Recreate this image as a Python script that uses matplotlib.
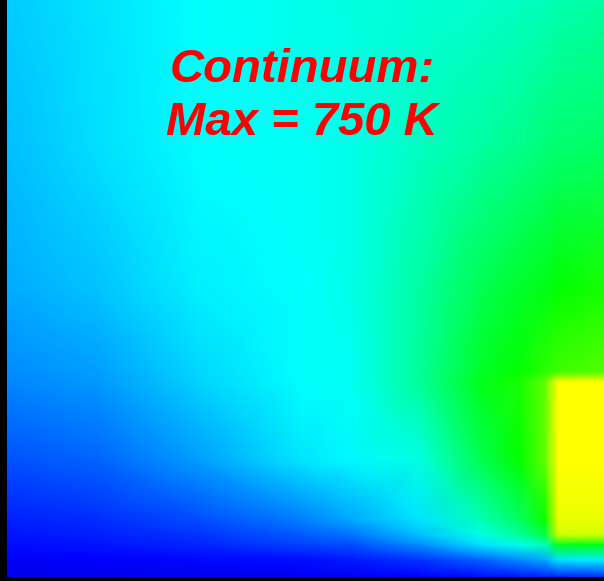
import numpy as np
import matplotlib.pyplot as plt
from matplotlib.colors import LinearSegmentedColormap

# grid nodes of the temperature field (image pixel coords, y downward)
x_nodes = [7, 100, 200, 300, 350, 420, 480, 520, 545, 558, 604]
y_nodes = [0, 145, 290, 372, 382, 460, 520, 535, 545, 560, 577]

# normalised temperature at each node (row = y node, col = x node)
temp = [
    [0.42, 0.46, 0.50, 0.52, 0.53, 0.54, 0.55, 0.56, 0.57, 0.58, 0.59],
    [0.40, 0.45, 0.50, 0.51, 0.52, 0.56, 0.59, 0.61, 0.63, 0.64, 0.65],
    [0.37, 0.41, 0.48, 0.50, 0.52, 0.59, 0.67, 0.71, 0.73, 0.75, 0.77],
    [0.32, 0.35, 0.44, 0.50, 0.51, 0.60, 0.71, 0.75, 0.79, 0.81, 0.83],
    [0.31, 0.34, 0.43, 0.50, 0.51, 0.60, 0.72, 0.77, 0.84, 1.00, 1.00],
    [0.23, 0.26, 0.35, 0.46, 0.49, 0.53, 0.67, 0.75, 0.84, 1.00, 1.00],
    [0.15, 0.17, 0.22, 0.30, 0.36, 0.46, 0.57, 0.66, 0.76, 0.98, 0.98],
    [0.13, 0.15, 0.18, 0.24, 0.28, 0.40, 0.52, 0.60, 0.68, 0.95, 0.95],
    [0.12, 0.13, 0.16, 0.20, 0.22, 0.32, 0.45, 0.52, 0.57, 0.72, 0.73],
    [0.08, 0.09, 0.11, 0.12, 0.14, 0.18, 0.25, 0.32, 0.37, 0.46, 0.48],
    [0.04, 0.04, 0.05, 0.06, 0.07, 0.09, 0.12, 0.14, 0.15, 0.15, 0.17],
]

title_lines = ["Continuum:", "Max = 750 K"]

cmap = LinearSegmentedColormap.from_list("field", [
    (0.0, (0, 0, 0.88)),
    (0.1, (0, 0, 1)),
    (0.5, (0, 1, 1)),
    (0.75, (0, 1, 0)),
    (1.0, (1, 1, 0)),
])

fig = plt.figure(figsize=(6.04, 5.81), dpi=100, facecolor='black')
ax = fig.add_axes([7 / 604, 4 / 581, 597 / 604, 577 / 581])
X, Y = np.meshgrid(x_nodes, y_nodes)
ax.pcolormesh(X, Y, np.array(temp), cmap=cmap, vmin=0, vmax=1, shading='gouraud')
ax.set_xlim(x_nodes[0], x_nodes[-1])
ax.set_ylim(y_nodes[-1], y_nodes[0])
ax.axis('off')

fs = 34
fig.text(302 / 604, 1 - 82 / 581, title_lines[0], color='red', fontsize=fs,
         fontweight='bold', fontstyle='italic', family='Liberation Sans',
         ha='center', va='baseline')
fig.text(302 / 604, 1 - 135 / 581, title_lines[1], color='red', fontsize=fs,
         fontweight='bold', fontstyle='italic', family='Liberation Sans',
         ha='center', va='baseline')

fig.savefig('out.png', dpi=100, facecolor='black')
